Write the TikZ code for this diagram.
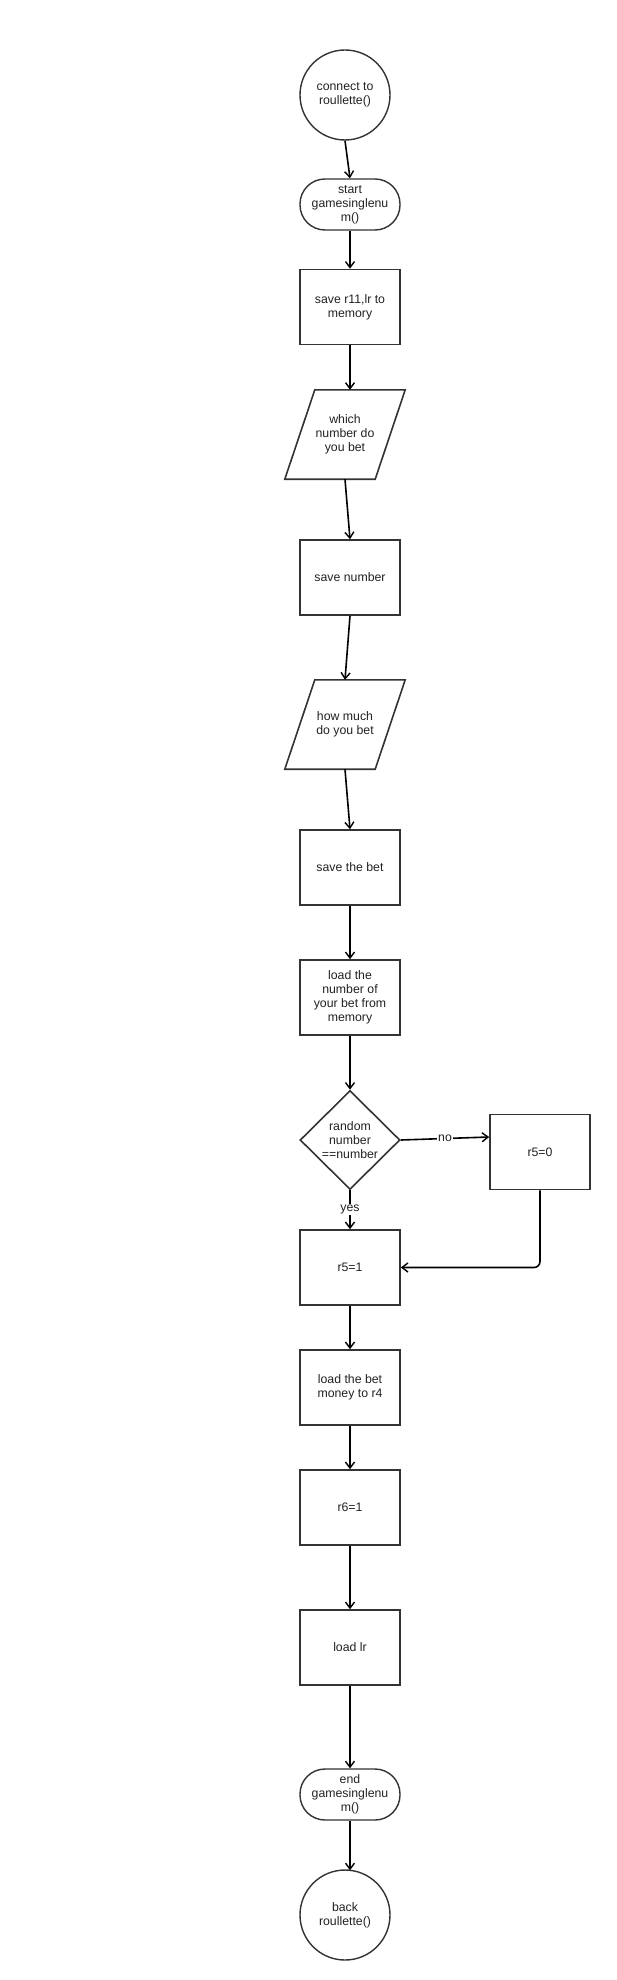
\documentclass[tikz,border=0pt]{standalone}
\usepackage{fontspec}
\setmainfont{Liberation Sans}
\usetikzlibrary{shapes.geometric,arrows.meta,calc}
\definecolor{edge}{HTML}{333333}
\definecolor{ink}{HTML}{222222}
\tikzset{
  txt/.style={font=\fontsize{12.3}{14}\selectfont, text=ink, align=center, inner sep=0pt},
  procbox/.style={txt, draw=edge, line width=1.6pt, minimum width=100pt, minimum height=75pt},
  termbox/.style={txt, draw=edge, line width=1.4pt, rounded corners=25pt, minimum width=100pt, minimum height=51pt},
  circ/.style={txt, draw=edge, line width=1.4pt, circle, minimum size=90pt},
  paranode/.style={txt, minimum width=120pt, minimum height=89pt},
  parashape/.style={draw=edge, line width=1.6pt, line join=miter},
  diam/.style={draw=edge, line width=1.6pt, diamond, minimum width=100pt, minimum height=99pt, inner sep=0pt},
  flow/.style={draw=black, line width=1.6pt, -{Straight Barb[length=6pt,width=9pt,line width=1.4pt]}},
  lbl/.style={txt, fill=white, inner sep=1pt}
}
\begin{document}
\begin{tikzpicture}[x=1pt,y=-1pt]
\useasboundingbox (0,0) rectangle (616,1980);
\node[circ] (c1) at (345,95) {connect to\\roullette()};
\node[termbox] (t1) at (350,204.5) {start\\gamesinglenu\\m()};
\node[procbox] (b1) at (350,307) {save r11,lr to\\memory};
\node[paranode] (p1) at (345,434.5) {which\\number do\\you bet};
\draw[parashape] ([xshift=30pt]p1.north west) -- (p1.north east) -- ([xshift=-30pt]p1.south east) -- (p1.south west) -- cycle;
\node[procbox] (b2) at (350,577.5) {save number};
\node[paranode] (p2) at (345,724.5) {how much\\do you bet};
\draw[parashape] ([xshift=30pt]p2.north west) -- (p2.north east) -- ([xshift=-30pt]p2.south east) -- (p2.south west) -- cycle;
\node[procbox] (b3) at (350,867.5) {save the bet};
\node[procbox] (b4) at (350,997.5) {load the\\number of\\your bet from\\memory};
\node[diam] (d1) at (350,1140) {};
\node[txt] (d1t) at (d1.center) {random\\number\\==number};
\node[procbox] (b5) at (540,1152) {r5=0};
\node[procbox] (b6) at (350,1267.5) {r5=1};
\node[procbox] (b7) at (350,1387.5) {load the bet\\money to r4};
\node[procbox] (b8) at (350,1507.5) {r6=1};
\node[procbox] (b9) at (350,1647.5) {load lr};
\node[termbox] (t2) at (350,1794.5) {end\\gamesinglenu\\m()};
\node[circ] (c2) at (345,1915) {back\\roullette()};

\draw[flow] (c1.south) -- (t1.north);
\draw[flow] (t1.south) -- (b1.north);
\draw[flow] (b1.south) -- ([xshift=5pt]p1.north);
\draw[flow] (p1.south) -- (b2.north);
\draw[flow] (b2.south) -- (p2.north);
\draw[flow] (p2.south) -- (b3.north);
\draw[flow] (b3.south) -- (b4.north);
\draw[flow] (b4.south) -- (d1.north);
\draw[flow] (d1.east) -- node[lbl] {no} ([yshift=15pt]b5.west);
\draw[flow] (d1.south) -- node[lbl] {yes} (b6.north);
\draw[flow, rounded corners=6pt] (b5.south) |- (b6.east);
\draw[flow] (b6.south) -- (b7.north);
\draw[flow] (b7.south) -- (b8.north);
\draw[flow] (b8.south) -- (b9.north);
\draw[flow] (b9.south) -- (t2.north);
\draw[flow] (t2.south) -- ([xshift=5pt,yshift=-1pt]c2.north);
\end{tikzpicture}
\end{document}
